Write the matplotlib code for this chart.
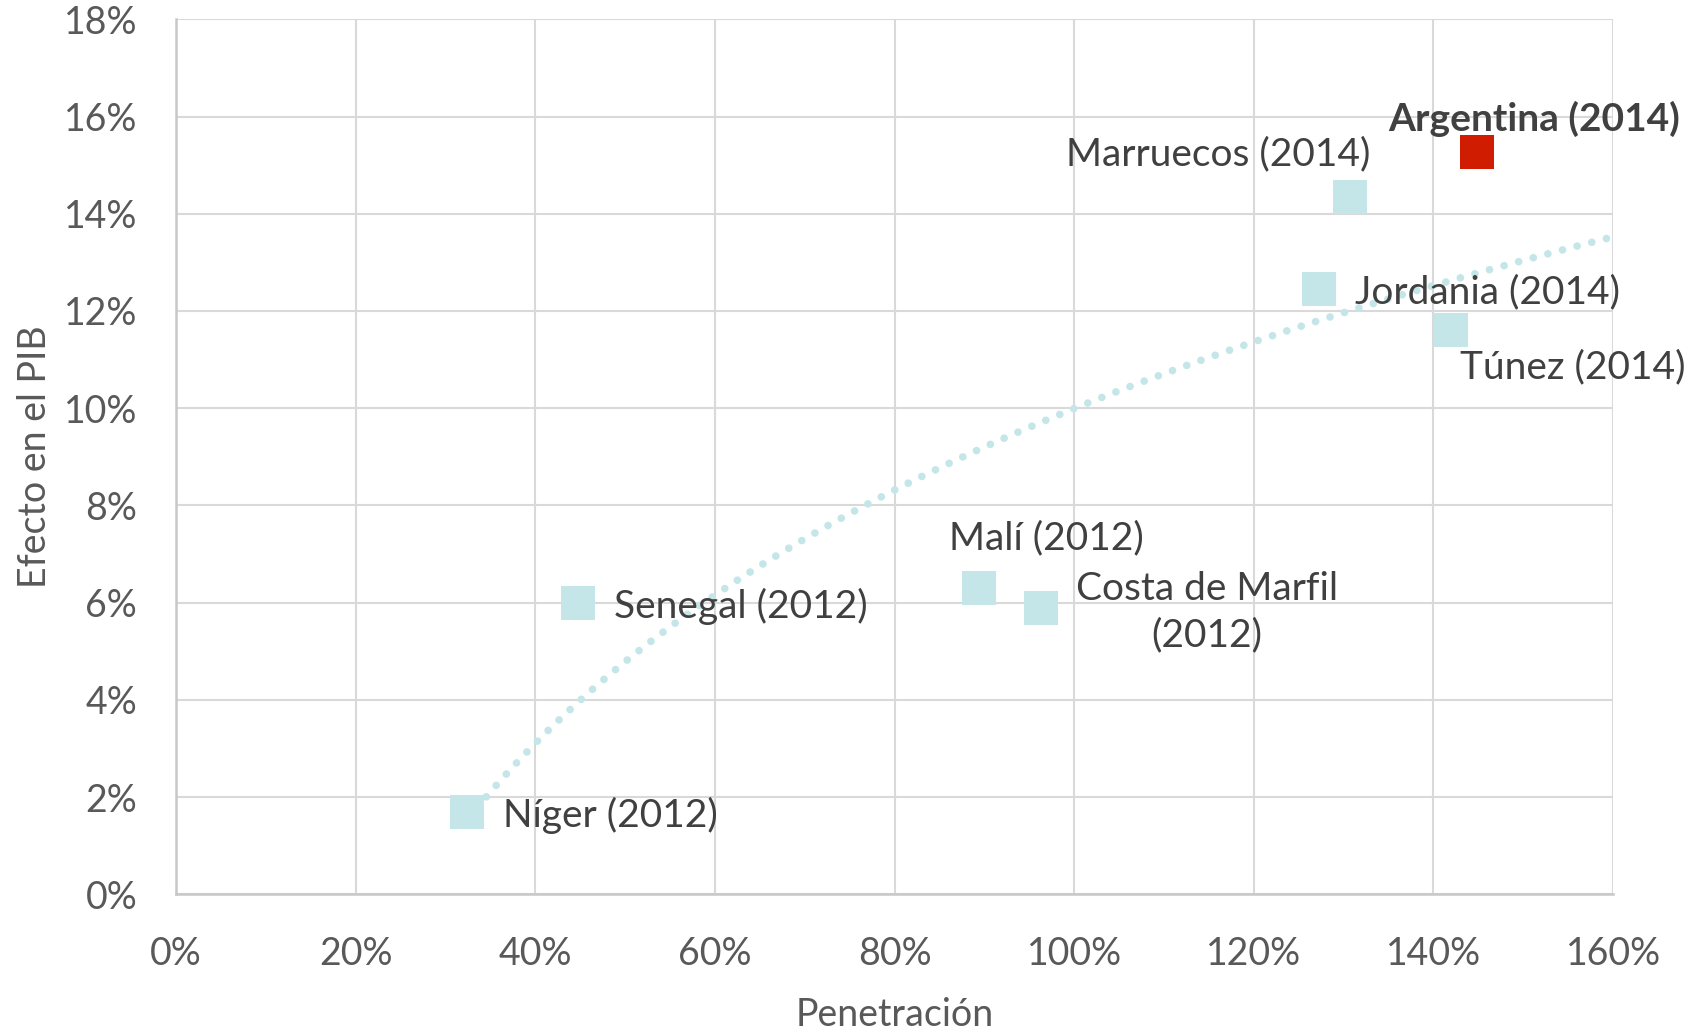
import matplotlib.pyplot as plt
import numpy as np
from matplotlib.ticker import PercentFormatter

# Data
paises = ['Níger (2012)', 'Senegal (2012)', 'Malí (2012)', 'Costa de Marfil\n(2012)',
          'Jordania (2014)', 'Marruecos (2014)', 'Túnez (2014)', 'Argentina (2014)']
penetracion = [0.324, 0.448, 0.894, 0.963, 1.273, 1.307, 1.420, 1.449]
efecto_pib = [0.0169, 0.0599, 0.0630, 0.0590, 0.1245, 0.1435, 0.1161, 0.1528]

# label offsets in pixels (dx, dy, ha)
offsets = [(36, -3, 'left'), (36, -3, 'left'), (67, 50, 'center'), (166, -5, 'center'),
           (36, -3, 'left'), (20, 42, 'right'), (9, -37, 'left'), (57, 33, 'center')]

celeste = '#c5e6e8'
rojo = '#d01c00'
gris = '#595959'

plt.rcParams['font.family'] = ['Lato', 'DejaVu Sans']

fig = plt.figure(figsize=(16.98, 10.32), dpi=100)
ax = fig.add_axes([0.1037, 0.1334, 0.8463, 0.8479])

# logarithmic trendline, fitted from the points
x_arr = np.array(penetracion)
y_arr = np.array(efecto_pib)
a, b = np.polyfit(np.log(x_arr), y_arr, 1)
xt = np.linspace(x_arr.min(), 1.6, 300)
ax.plot(xt, a * np.log(xt) + b, color=celeste, lw=5.5, linestyle=(0, (0.01, 1.97)),
        dash_capstyle='round', zorder=2)

colores = [celeste] * 7 + [rojo]
ax.scatter(penetracion, efecto_pib, marker='s', s=600, c=colores, linewidths=0, zorder=3)

for i, txt in enumerate(paises):
    dx, dy, ha = offsets[i]
    bold = txt.startswith('Argentina')
    ax.annotate(txt, (penetracion[i], efecto_pib[i]), xytext=(dx, dy),
                textcoords='offset pixels', ha=ha, va='center', fontsize=28,
                color='#404040', fontweight='bold' if bold else 'normal',
                linespacing=1.35, zorder=4)

ax.set_xlim(0, 1.6)
ax.set_ylim(0, 0.18)
ax.set_xticks(np.arange(0, 1.61, 0.2))
ax.set_yticks(np.arange(0, 0.181, 0.02))
ax.xaxis.set_major_formatter(PercentFormatter(1.0, decimals=0))
ax.yaxis.set_major_formatter(PercentFormatter(1.0, decimals=0))
ax.tick_params(length=0, labelsize=27, labelcolor=gris)
ax.tick_params(axis='x', pad=30)
ax.tick_params(axis='y', pad=28)

ax.grid(True, color='#d9d9d9', lw=1.5, zorder=0)
ax.set_axisbelow(True)
for s in ['top', 'right']:
    ax.spines[s].set_visible(False)
for s in ['left', 'bottom']:
    ax.spines[s].set_color('#c8c8c8')
    ax.spines[s].set_linewidth(1.8)

ax.set_xlabel('Penetración', fontsize=27, color=gris, labelpad=18)
ax.set_ylabel('Efecto en el PIB', fontsize=27, color=gris, labelpad=8)

fig.savefig('out.png', dpi=100)
